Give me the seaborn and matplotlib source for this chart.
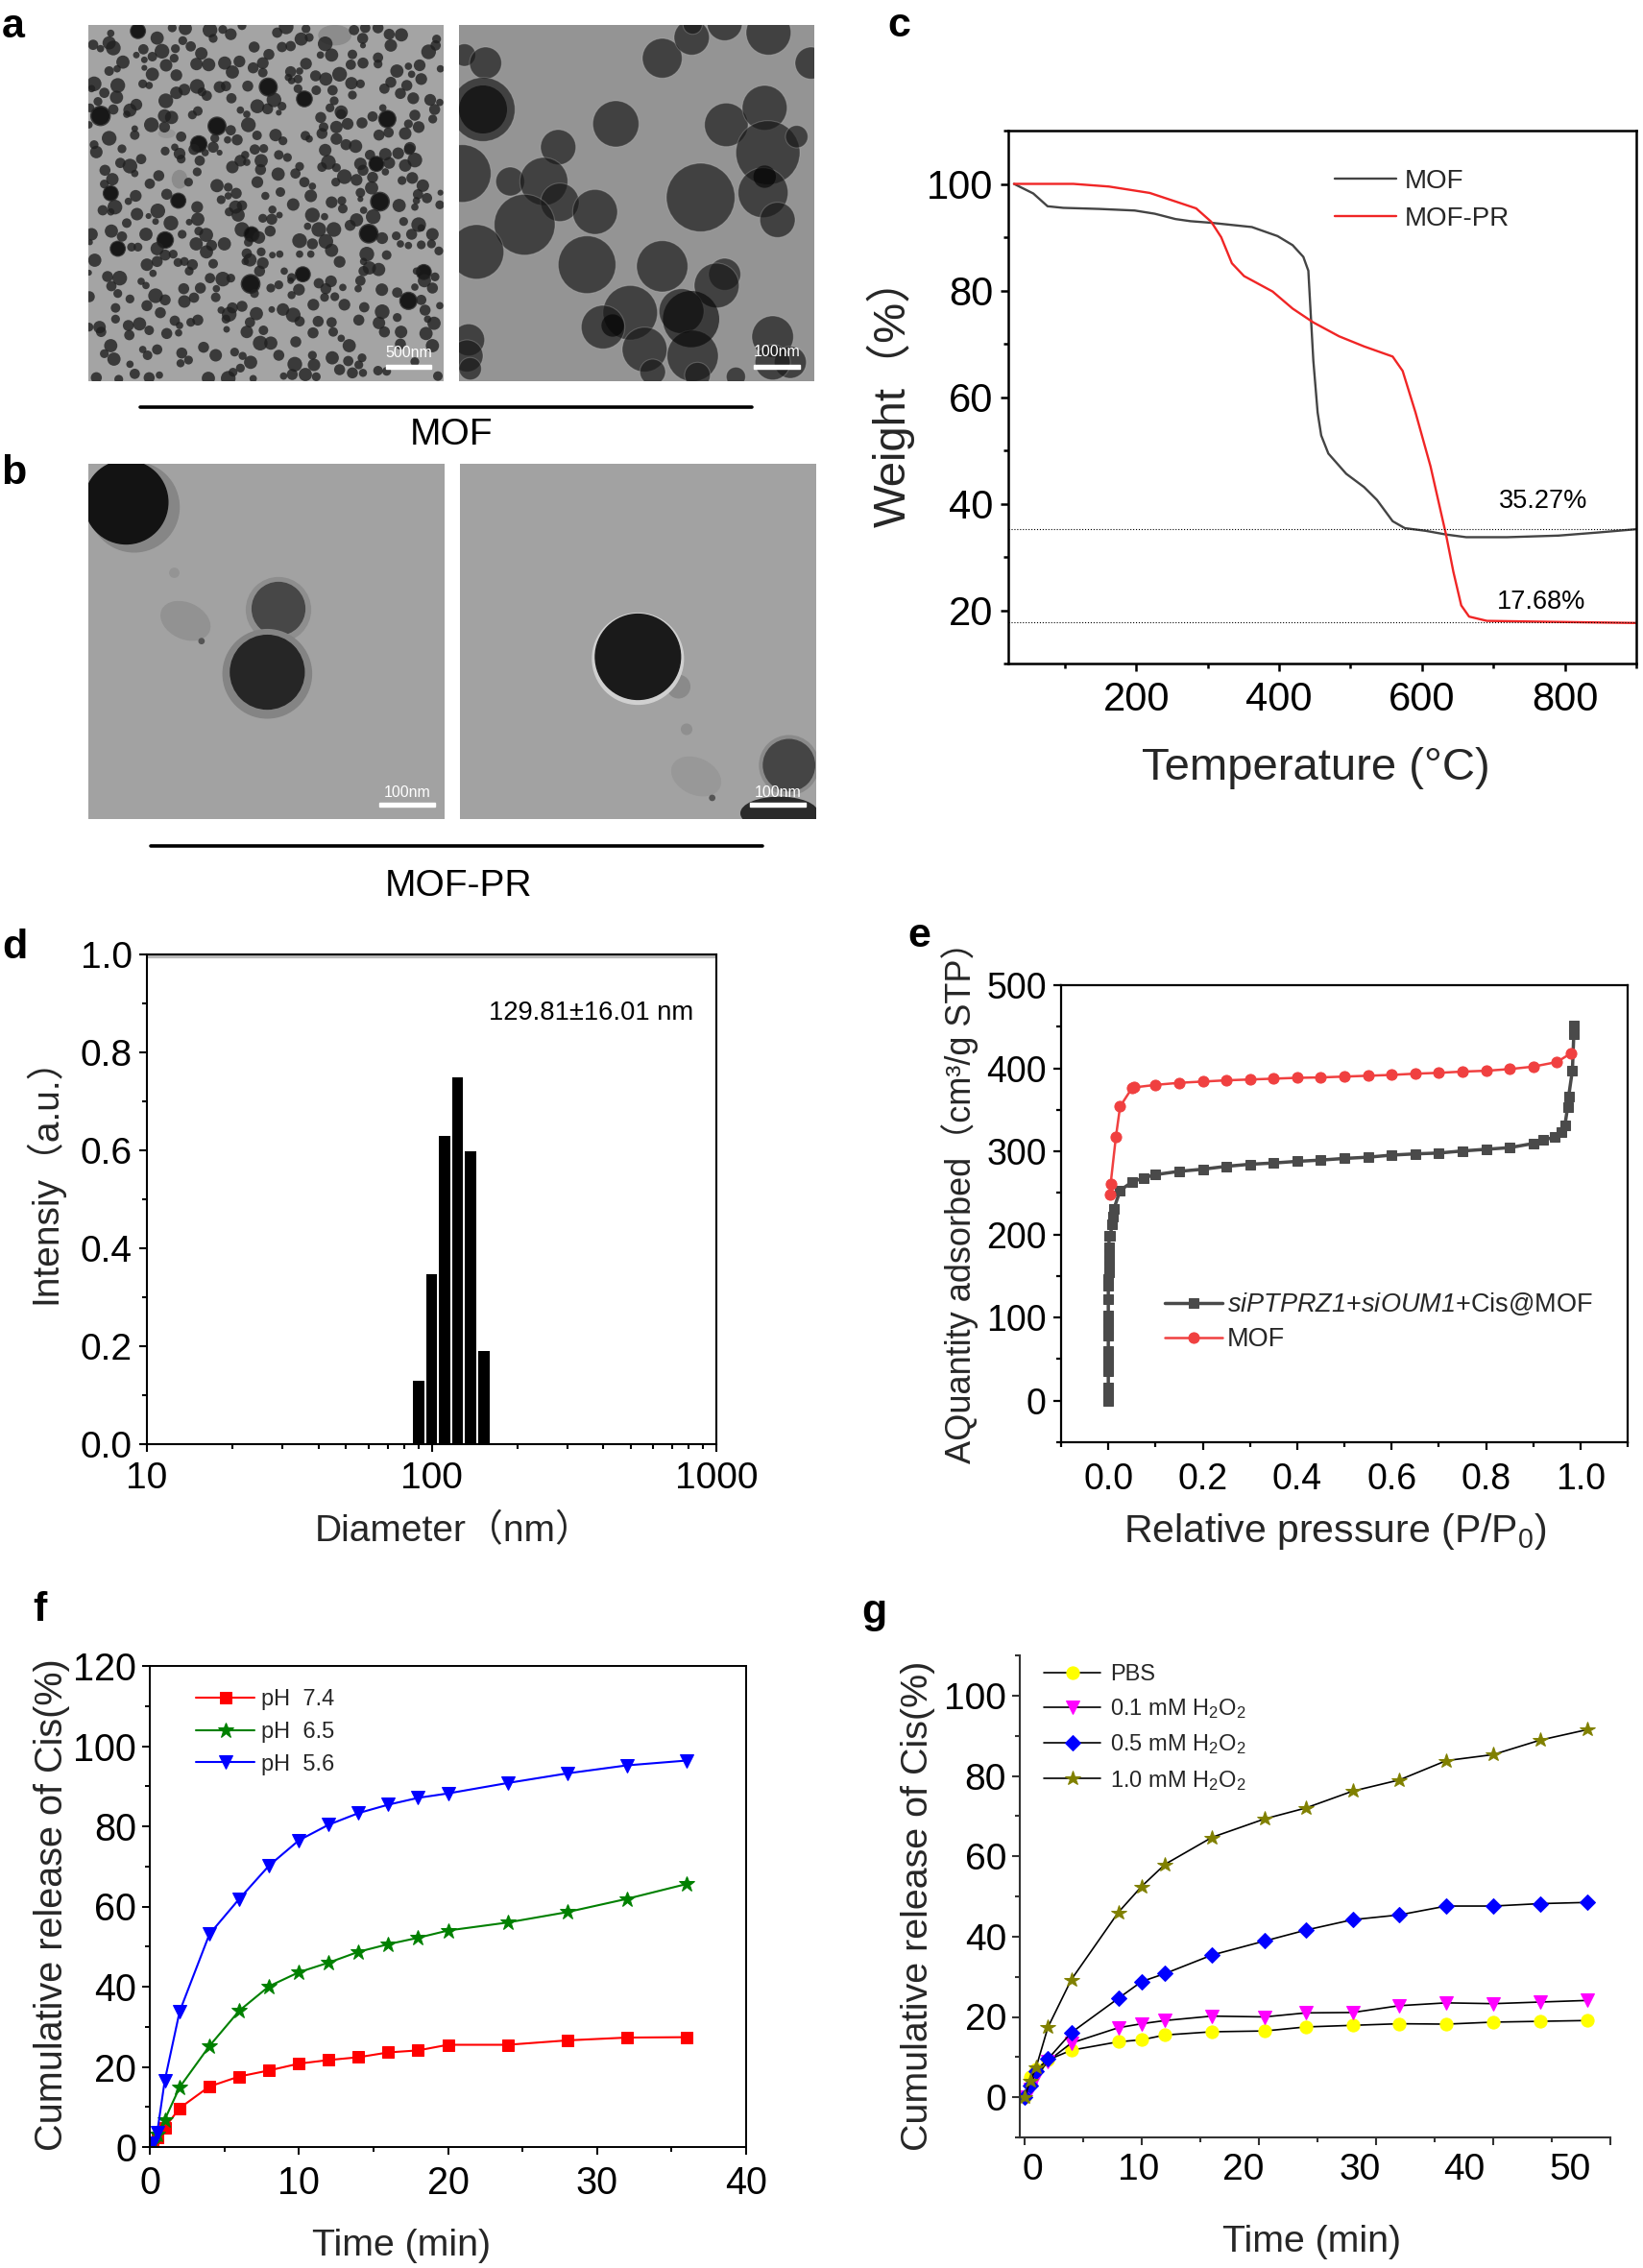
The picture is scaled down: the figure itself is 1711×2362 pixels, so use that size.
import numpy as np
import matplotlib
matplotlib.use('Agg')
import matplotlib.pyplot as plt
from matplotlib.patches import Circle, Ellipse, Rectangle
from matplotlib.ticker import MultipleLocator, LogLocator, NullFormatter
import seaborn as sns

W, H = 1711, 2362

# c: TGA
tga_mof_x = [29, 56, 76, 98, 148, 198, 226, 255, 276, 305, 362, 398, 419, 434, 441, 444, 448, 454, 459, 469, 494, 519, 537, 559, 576, 605, 634, 662, 719, 791, 848, 900]
tga_mof_y = [100, 98.2, 95.8, 95.5, 95.3, 95, 94.4, 93.4, 93, 92.7, 91.9, 90.2, 88.5, 86.3, 83.7, 76.4, 66.8, 57.1, 52.8, 49.4, 45.6, 43.1, 40.7, 36.7, 35.4, 34.9, 34.2, 33.7, 33.7, 34, 34.6, 35.2]
tga_pr_x = [29, 112, 162, 219, 255, 284, 305, 319, 334, 351, 391, 419, 448, 484, 519, 559, 573, 591, 612, 634, 644, 655, 666, 691, 791, 900]
tga_pr_y = [100, 100, 99.5, 98.3, 96.7, 95.4, 92.9, 90, 85.1, 82.7, 79.8, 76.6, 74, 71.4, 69.5, 67.6, 64.9, 57.1, 47, 34, 27.2, 20.9, 18.8, 18, 17.8, 17.6]
residues = [35.27, 17.68]

# d: DLS
diameter = [90.3, 100.1, 111, 123.4, 137, 152.6]
intensity = [0.13, 0.348, 0.629, 0.749, 0.598, 0.191]

# e: isotherm
bet_cis_x = [0, 0, 0, 0, 0, 0, 0, 0, 0, 0, 0, 0, 0, 0, 0.001, 0.001, 0.001, 0.001, 0.001, 0.002, 0.004, 0.008, 0.01, 0.012, 0.025, 0.05, 0.074, 0.1, 0.15, 0.2, 0.25, 0.3, 0.35, 0.4, 0.45, 0.5, 0.55, 0.6, 0.65, 0.7, 0.75, 0.8, 0.85, 0.9, 0.92, 0.945, 0.96, 0.967, 0.973, 0.975, 0.983, 0.986, 0.986]
bet_cis_y = [0, 8, 16, 36, 44, 52, 60, 78, 86, 94, 102, 122, 138, 146, 154, 162, 170, 176, 185, 198, 198, 212, 222, 231, 253, 263, 268, 272, 276, 278.5, 282, 284.5, 286, 288, 289.5, 291.5, 293, 295.5, 297, 298, 300.5, 302.5, 304.5, 309.5, 313.5, 317, 323.5, 331, 353.5, 366, 397.5, 441, 451]
bet_mof_x = [0.003, 0.005, 0.016, 0.025, 0.05, 0.055, 0.1, 0.15, 0.2, 0.25, 0.3, 0.35, 0.4, 0.45, 0.5, 0.55, 0.6, 0.65, 0.7, 0.75, 0.8, 0.85, 0.9, 0.95, 0.98]
bet_mof_y = [248, 261, 317, 354, 376, 377, 380, 382.5, 384, 385.5, 386.5, 387.5, 388.5, 389, 390, 391, 392, 393.5, 394.5, 396, 397, 399, 402, 407.5, 418]

# f: pH release
ph_time = [0.2, 0.5, 1, 2, 4, 6, 8, 10, 12, 14, 16, 18, 20, 24, 28, 32, 36]
ph74 = [0.5, 2.4, 4.8, 9.7, 15.1, 17.6, 19.1, 20.8, 21.7, 22.4, 23.6, 24.1, 25.5, 25.5, 26.6, 27.3, 27.4]
ph65 = [1, 3, 6.8, 14.9, 25.2, 34, 40.1, 43.6, 46, 48.7, 50.6, 52.2, 54, 56, 58.6, 61.9, 65.6]
ph56 = [1, 3.7, 16.5, 33.8, 53.1, 61.9, 70.2, 76.5, 80.4, 83.3, 85.4, 87.1, 88.2, 90.8, 93.2, 95.2, 96.4]

# g: H2O2 release
h2o2_time = [0, 0.5, 1, 2, 4, 8, 10, 12, 16, 20.5, 24, 28, 32, 36, 40, 44, 48]
pbs = [0, 5, 7, 9.3, 11.7, 13.8, 14.3, 15.5, 16.3, 16.5, 17.5, 17.9, 18.3, 18.2, 18.7, 18.9, 19.1]
h01 = [0, 2, 5, 9, 13.5, 17.3, 18.3, 19.1, 20.2, 20, 21, 21.1, 22.8, 23.5, 23.3, 23.7, 24.1]
h05 = [0, 3, 6.5, 9.5, 16.1, 24.6, 28.8, 30.8, 35.4, 38.9, 41.6, 44.2, 45.4, 47.6, 47.6, 48.2, 48.5]
h10 = [0, 4, 7.5, 17.4, 29.3, 46, 52.5, 58, 64.7, 69.3, 72, 76.2, 79, 83.8, 85.3, 88.9, 91.5]
g_xlabels = ['0', '10', '20', '30', '40', '50']

# TEM particles (x, y, r in crop units)
tem_a1 = [(155,25,22),(70,32,10),(215,47,18),(262,15,12),(303,17,18),(380,22,20),(420,20,12),(445,35,16),(480,8,12),(590,30,14),(618,12,20),(665,50,18),(690,45,12),(680,18,12),(830,22,14),(865,15,14),(905,15,15),(857,48,15),(940,35,15),(978,37,18),(945,70,17),(1088,50,12),
(15,68,14),(65,62,18),(78,78,20),(38,80,10),(172,82,14),(230,88,20),(272,80,12),(295,55,12),(320,73,14),(390,48,12),(518,75,15),(605,75,14),(632,72,14),(740,65,20),(760,100,18),(725,100,10),(825,98,13),(858,70,8),(1063,90,20),(1085,70,14),
(150,100,9),(200,105,13),(108,122,18),(175,115,9),(243,132,17),(268,110,12),(353,95,17),(338,128,17),(376,130,18),(426,125,18),(472,120,16),(564,98,15),(545,125,16),(515,140,15),(680,127,16),(820,130,14),(858,125,15),(905,108,14),(905,128,12),(1035,132,16),(1000,135,10),
(65,150,13),(90,143,10),(175,140,8),(200,160,18),(275,163,16),(450,153,18),(545,155,13),(632,152,15),(660,150,10),(785,160,20),(710,165,15),(742,175,18),(655,175,12),(635,180,10),(964,150,18),(1040,175,16),(1010,160,10),(1100,143,10),
(18,190,20),(10,205,10),(92,195,20),(50,218,14),(88,232,18),(170,190,12),(190,195,10),(275,218,17),(300,208,16),(340,198,20),(355,215,12),(370,227,14),(410,200,16),(430,197,14),(498,197,15),(562,200,26),(625,170,10),(675,237,23),(655,205,12),(712,210,13),(822,188,17),(850,190,12),(763,210,14),(825,225,12),(945,185,15),(925,205,14),(995,195,15),(975,220,15),(1015,235,16),
(30,245,12),(5,265,12),(38,290,28),(78,270,14),(150,255,16),(130,272,18),(120,285,10),(242,243,20),(342,275,13),(325,287,12),(447,235,14),(475,272,10),(495,285,10),(528,260,19),(560,268,15),(580,240,20),(605,260,12),(595,280,8),(768,243,12),(755,265,12),(790,278,18),(920,265,10),(1068,240,16),(1098,248,10),(1082,270,15),(1020,288,15),(1076,300,12),
(2,318,10),(197,318,20),(238,290,18),(260,295,18),(238,325,15),(402,322,26),(445,335,14),(500,318,20),(726,295,15),(735,325,13),(775,325,17),(810,315,16),(790,285,14),(855,312,15),(888,292,14),(934,300,25),(1000,315,12),(1032,325,16),(990,345,17),(145,330,9),(145,350,13),
(65,360,20),(290,355,14),(395,360,12),(345,378,24),(435,365,10),(465,365,15),(527,351,13),(585,350,17),(608,368,12),(678,352,13),(690,362,10),(730,345,15),(775,362,16),(908,350,15),(938,342,14),(805,380,15),(835,385,18),(1005,390,16),
(18,380,12),(25,403,17),(105,393,12),(240,400,12),(270,388,10),(285,408,16),(330,395,15),(390,388,15),(410,405,8),(365,405,10),(520,395,14),(548,392,12),(595,412,13),(622,420,12),(490,412,11),(740,397,17),(880,412,14),(928,410,17),(968,407,16),(1003,395,15),
(100,437,14),(130,447,20),(165,425,14),(145,470,10),(290,425,12),(348,430,14),(340,465,12),(475,430,16),(450,450,17),(495,435,10),(540,430,18),(538,458,15),(660,448,12),(750,435,20),(730,450,13),(775,452,12),(850,440,17),(900,440,22),(940,437,16),(858,460,15),(928,465,10),(1020,428,20),(990,445,17),
(52,460,15),(75,488,17),(220,477,15),(192,502,14),(313,497,12),(402,508,18),(528,497,16),(593,472,18),(647,470,14),(675,497,14),(800,480,20),(773,497,12),(838,490,16),(888,482,15),(980,492,12),(1012,484,16),
(50,503,12),(70,532,22),(148,540,16),(125,557,10),(245,535,15),(281,555,22),(437,513,12),(462,532,15),(437,540,10),(553,540,11),(600,528,13),(695,540,17),(700,510,10),(850,530,13),(885,515,18),(1045,508,17),(1030,535,14),(850,550,8),(1100,530,8),
(45,585,14),(83,575,20),(70,590,10),(217,587,20),(152,597,17),(340,575,16),(415,552,12),(460,575,18),(480,570,14),(640,567,17),(575,583,11),(760,560,16),(792,555,12),(795,580,13),(911,558,27),(971,570,18),(1058,547,14),(1025,555,10),(1020,575,10),(1098,568,12),
(188,603,8),(210,620,9),(120,625,13),(258,625,20),(342,613,18),(315,622,9),(440,590,12),(468,600,18),(545,610,12),(573,613,15),(597,600,9),(700,600,20),(738,605,10),(860,585,10),(838,615,18),(890,605,20),(818,632,15),(1032,630,20),(985,620,12),(1040,640,10),
(10,660,17),(72,650,18),(105,667,14),(180,660,18),(240,678,24),(293,660,12),(345,650,12),(368,662,19),(480,645,20),(510,660,22),(533,670,17),(568,650,15),(685,635,10),(720,645,20),(767,645,20),(876,658,27),(918,672,16),(962,665,12),(1010,660,15),(1075,660,17),
(5,685,8),(92,705,22),(135,700,12),(155,700,12),(215,705,18),(337,690,18),(385,695,15),(425,690,18),(369,715,18),(500,685,12),(660,680,20),(700,690,15),(742,682,20),(975,690,10),(1000,695,10),(1040,693,12),(1072,690,12),(1095,712,12),(760,710,18),(660,722,10),(695,722,10),
(20,741,18),(240,725,15),(265,722,12),(215,745,15),(300,745,12),(325,755,15),(280,748,12),(495,720,14),(505,740,18),(540,715,12),(545,750,16),(575,725,9),(598,722,10),(490,745,10),(785,746,16),(870,722,20),(932,725,13),(860,745,10),
(2,780,8),(183,755,17),(202,782,10),(315,775,12),(390,752,13),(535,775,15),(612,775,10),(670,785,22),(635,795,12),(60,792,15),(98,797,20),(860,775,14),(878,765,18),(907,770,18),(1048,778,22),(1025,775,10),(1083,793,12),
(72,822,14),(165,807,10),(180,820,10),(380,797,14),(420,800,20),(445,797,12),(507,815,27),(519,845,12),(570,828,12),(595,818,12),(632,805,9),(658,833,16),(635,850,11),(720,813,14),(758,807,16),(742,830,15),(795,826,10),(850,805,14),(843,830,10),(917,833,17),(1050,805,18),(1075,828,15),(1020,825,10),
(92,845,12),(3,855,15),(130,862,12),(210,852,20),(240,865,15),(298,830,15),(350,828,15),(300,870,17),(330,858,14),(400,830,10),(398,857,13),(738,857,12),(770,855,12),(800,880,16),(965,842,14),(1000,868,25),(1040,865,14),
(183,883,15),(85,890,13),(225,905,15),(480,885,15),(450,890,15),(440,910,20),(415,897,10),(525,908,18),(573,895,9),(608,895,17),(640,912,20),(703,880,16),(862,888,14),(918,902,20),(1052,897,15),(1098,883,10),
(85,925,12),(2,950,12),(35,950,17),(125,945,15),(160,940,18),(190,960,13),(270,930,14),(285,945,10),(320,935,12),(342,928,15),(430,925,12),(505,935,14),(660,932,14),(718,932,15),(760,935,14),(845,928,15),(908,937,17),(965,920,12),(1080,938,18),(1060,925,10),
(40,965,14),(128,975,14),(245,970,15),(282,968,10),(432,957,9),(495,965,17),(547,960,13),(702,968,15),(765,965,13),(925,965,15),(977,965,17),(1055,970,18),(790,985,10),
(70,1008,18),(80,1050,18),(50,1033,12),(170,1020,10),(215,1020,14),(185,1038,13),(292,1031,15),(313,1053,12),(288,1063,11),(360,1013,15),(398,1038,17),(457,1028,12),(482,1040,11),(507,1060,18),(537,1000,20),(570,1000,18),(595,1038,15),(648,996,15),(645,1066,20),(700,1038,12),(705,1068,17),(762,1046,18),(815,1008,18),(812,1056,14),(855,1046,12),(845,1068,12),(825,1093,15),(858,1093,11),(1020,1058,12),(1075,1008,18),(975,1003,15),
(130,1066,10),(145,1096,14),(25,1108,15),(95,1113,12),(190,1108,15),(222,1100,10),(375,1110,18),(437,1110,20),(452,1091,12),(475,1078,12),(515,1111,10),(610,1103,10),(637,1098,15),(678,1098,18),(712,1105,12),(785,1083,15),(905,1086,13),(932,1088,12),(1092,1103,13)]
tem_a2 = [(2,100,35),(68,125,50),(60,270,100),(-5,470,90),(295,388,55),(475,315,72),(145,495,45),(250,495,75),(300,560,60),(190,630,95),(410,590,70),(40,715,85),(385,755,90),(620,110,62),(712,45,55),(715,5,30),(815,0,55),(952,30,70),(1085,125,50),(820,318,68),(940,265,70),(950,405,100),(1040,355,35),(935,530,78),(980,615,55),(740,545,107),(620,760,80),(815,785,50),(790,820,70),(520,905,85),(435,950,68),(680,900,70),(565,1020,70),(715,1040,80),(965,980,65),(1020,1060,50),(15,990,50),(10,1040,50),(20,1080,35),(965,1060,55),(590,1090,40),(730,1100,40),(850,1105,30)]
# the near black cores
tem_a2_dark = [(60,270,75),(710,925,88),(940,480,35),(465,945,35)]

sns.set_theme(style='ticks')
plt.rcParams['font.family'] = ['Liberation Sans', 'Noto Sans CJK SC', 'DejaVu Sans']
plt.rcParams['mathtext.fontset'] = 'custom'
plt.rcParams['mathtext.rm'] = 'Liberation Sans'
plt.rcParams['mathtext.it'] = 'Liberation Sans:italic'
plt.rcParams['mathtext.cal'] = 'Liberation Sans:italic'
plt.rcParams['mathtext.default'] = 'regular'

fig = plt.figure(figsize=(W / 100, H / 100), dpi=100, facecolor='white')


def add_box(l, t, r, b):
    return fig.add_axes([l / W, 1 - b / H, (r - l) / W, (b - t) / H])


def px_text(x, y, s, size, **kw):
    kw.setdefault('ha', 'center')
    kw.setdefault('va', 'center')
    kw.setdefault('color', 'black')
    return fig.text(x / W, 1 - y / H, s, fontsize=size, **kw)


def style_axes(ax, box, lw=1.5, labelsize=28, pad=6, color='black'):
    for s in ax.spines.values():
        s.set_linewidth(lw)
        s.set_color(color)
    ax.tick_params(which='major', length=6, width=lw, labelsize=labelsize, pad=pad, color=color, labelcolor='black')
    ax.tick_params(which='minor', length=3.5, width=lw, color=color)
    ax.grid(False)


def set_labels(ax, box, xlab, xpos, xsize, ylab, ypos, ysize):
    l, t, r, b = box
    ax.set_xlabel(xlab, fontsize=xsize, va='center', labelpad=0)
    ax.set_ylabel(ylab, fontsize=ysize, va='center', labelpad=0)
    ax.xaxis.set_label_coords((xpos[0] - l) / (r - l), (b - xpos[1]) / (b - t))
    ax.yaxis.set_label_coords((ypos[0] - l) / (r - l), (b - ypos[1]) / (b - t))


def place_legend(ax, left, top, size, spacing, hlen, tpad):
    ax.legend(loc='upper left', bbox_to_anchor=(left / W, 1 - top / H), bbox_transform=fig.transFigure,
              frameon=False, fontsize=size, borderpad=0, borderaxespad=0, labelspacing=spacing,
              handlelength=hlen, handletextpad=tpad)


def tem_panel(box, xlim, ylim, bg):
    ax = add_box(*box)
    ax.set_facecolor(bg)
    ax.set_xlim(*xlim)
    ax.set_ylim(*ylim)
    ax.set_xticks([])
    ax.set_yticks([])
    for s in ax.spines.values():
        s.set_visible(False)
    return ax


def scale_bar(ax, x0, x1, y, text, ty):
    ax.add_patch(Rectangle((x0, y - 6), x1 - x0, 12, color='white', zorder=20))
    ax.text((x0 + x1) / 2, ty, text, color='white', fontsize=11.5, ha='center', va='center', zorder=20)


# a: MOF micrographs
ax = tem_panel((92, 26, 462, 397), (0, 1110), (1119, 6), '#a4a4a4')
ax.add_patch(Ellipse((770, 38), 100, 60, color='#8c8c8c'))
ax.add_patch(Ellipse((285, 488), 45, 55, color='#8c8c8c'))
ax.add_patch(Ellipse((245, 345), 50, 25, color='#969696'))
for x, y, r in tem_a1:
    ax.add_patch(Circle((x, y), r * 1.15, color='#202020', alpha=0.8, lw=0))
    if r >= 22:
        ax.add_patch(Circle((x, y), r, color='#0a0a0a', alpha=0.7, lw=0))
scale_bar(ax, 930, 1072, 1075, '500nm', 1031)

ax = tem_panel((478, 26, 848, 397), (-15, 1095), (1119, 6), '#949494')
for x, y, r in tem_a2:
    ax.add_patch(Circle((x, y), r, fc=(0.1, 0.1, 0.1, 0.68), ec=(0.85, 0.85, 0.85, 0.25), lw=0.8))
for x, y, r in tem_a2_dark:
    ax.add_patch(Circle((x, y), r, fc=(0, 0, 0, 0.6), lw=0))
scale_bar(ax, 905, 1050, 1075, '100nm', 1029)

# b: MOF-PR micrographs
ax = tem_panel((92, 483, 463, 853), (7, 1118), (1118, 10), '#a2a2a2')
ax.add_patch(Ellipse((310, 500), 160, 110, angle=25, color='#929292'))
ax.add_patch(Circle((275, 350), 14, color='#949494'))
ax.add_patch(Circle((360, 563), 8, color='#555555'))
ax.add_patch(Circle((150, 145), 140, color='#868686'))
ax.add_patch(Circle((125, 130), 130, color='#131313'))
ax.add_patch(Circle((600, 465), 100, color='#8e8e8e'))
ax.add_patch(Circle((600, 462), 82, color='#474747'))
ax.add_patch(Circle((565, 665), 138, color='#848484'))
ax.add_patch(Circle((565, 660), 115, color='#262626'))
scale_bar(ax, 915, 1087, 1072, '100nm', 1035)

ax = tem_panel((479, 483, 850, 853), (12, 1125), (1118, 10), '#a2a2a2')
ax.add_patch(Circle((695, 705), 35, color='#8a8a8a'))
ax.add_patch(Circle((720, 838), 16, color='#8f8f8f'))
ax.add_patch(Ellipse((750, 985), 160, 110, angle=25, color='#989898'))
ax.add_patch(Circle((800, 1052), 8, color='#555555'))
ax.add_patch(Circle((568, 618), 142, color='#d0d0d0'))
ax.add_patch(Circle((568, 612), 133, color='#1a1a1a'))
ax.add_patch(Circle((1040, 950), 92, color='#8a8a8a'))
ax.add_patch(Circle((1040, 950), 80, color='#454545'))
ax.add_patch(Ellipse((1010, 1100), 240, 100, color='#2a2a2a'))
scale_bar(ax, 918, 1092, 1073, '100nm', 1035)

for x0, x1, y in [(146, 783, 424), (157, 794, 881)]:
    fig.add_artist(plt.Line2D([x0 / W, x1 / W], [1 - y / H, 1 - y / H], color='black', lw=2.6))
px_text(470, 453, 'MOF', 28)
px_text(477, 923, 'MOF-PR', 28)

# c: TGA
box = (1050, 136, 1704, 691)
ax = add_box(*box)
sns.lineplot(x=tga_mof_x, y=tga_mof_y, color='#444444', lw=1.7, label='MOF', sort=False, estimator=None, ax=ax)
sns.lineplot(x=tga_pr_x, y=tga_pr_y, color='#f02525', lw=1.7, label='MOF-PR', sort=False, estimator=None, ax=ax)
for v in residues:
    ax.axhline(v, color='black', lw=0.8, ls=':')
ax.set_xlim(21, 900)
ax.set_ylim(10, 110)
ax.set_xticks([200, 400, 600, 800])
ax.xaxis.set_minor_locator(MultipleLocator(100))
ax.yaxis.set_major_locator(MultipleLocator(20))
ax.yaxis.set_minor_locator(MultipleLocator(10))
style_axes(ax, box, lw=1.8, labelsize=30, pad=7)
ax.tick_params(axis='y', pad=5)
set_labels(ax, box, 'Temperature (°C)', (1370, 800), 34, 'Weight（%）', (928, 408), 34)
place_legend(ax, 1390, 176, 20, 0.46, 2.3, 0.32)
px_text(1607, 522, '35.27%', 19.5)
px_text(1605, 627, '17.68%', 19.5)

# d: DLS size distribution
box = (153, 994, 746, 1504)
ax = add_box(*box)
sns.histplot(x=diameter, weights=intensity, bins=6, binrange=(1.931, 2.206), log_scale=True, shrink=0.86,
             color='black', edgecolor='none', alpha=1, ax=ax)
ax.axhline(0.996, color='#bbbbbb', lw=3)
ax.set_xlim(10, 1000)
ax.set_ylim(0, 1)
ax.xaxis.set_major_locator(LogLocator(base=10, numticks=4))
ax.xaxis.set_minor_locator(LogLocator(base=10, subs=np.arange(2, 10), numticks=4))
ax.xaxis.set_minor_formatter(NullFormatter())
ax.set_xticks([10, 100, 1000])
ax.set_xticklabels(['10', '100', '1000'])
ax.yaxis.set_major_locator(MultipleLocator(0.2))
ax.yaxis.set_minor_locator(MultipleLocator(0.1))
style_axes(ax, box, lw=1.5, labelsize=28, pad=7)
ax.tick_params(axis='y', pad=5)
set_labels(ax, box, 'Diameter（nm）', (473, 1595), 28, 'Intensiy（a.u.）', (46, 1220), 28)
px_text(616, 1055, '129.81±16.01 nm', 19.7)

# e: N2 isotherm
box = (1105, 1026, 1695, 1502)
ax = add_box(*box)
sns.lineplot(x=bet_cis_x, y=bet_cis_y, color='#4a4a4a', lw=2.5, marker='s', markersize=7, markeredgecolor='#4a4a4a',
             label=r'$\mathcal{siPTPRZ1}$+$\mathcal{siOUM1}$+Cis@MOF', sort=False, estimator=None, ax=ax)
sns.lineplot(x=bet_mof_x, y=bet_mof_y, color='#f04040', lw=1.8, marker='o', markersize=8, markeredgecolor='#f04040',
             label='MOF', sort=False, estimator=None, ax=ax)
ax.set_xlim(-0.1, 1.1)
ax.set_ylim(-50, 500)
ax.xaxis.set_major_locator(MultipleLocator(0.2))
ax.xaxis.set_minor_locator(MultipleLocator(0.1))
ax.yaxis.set_major_locator(MultipleLocator(100))
ax.yaxis.set_minor_locator(MultipleLocator(50))
style_axes(ax, box, lw=1.6, labelsize=27, pad=9)
ax.tick_params(axis='y', pad=5)
set_labels(ax, box, 'Relative pressure (P/P$_0$)', (1390, 1595), 29.5, 'AQuantity adsorbed（cm³/g STP）', (1000, 1243), 26)
place_legend(ax, 1213, 1344, 19.5, 0.37, 2.2, 0.2)

# f: pH dependent release
box = (156, 1735, 777, 2236)
ax = add_box(*box)
sns.lineplot(x=ph_time, y=ph74, color='red', lw=1.5, marker='s', markersize=8, markeredgecolor='red', label='pH  7.4', estimator=None, ax=ax)
sns.lineplot(x=ph_time, y=ph65, color='green', lw=1.5, marker='*', markersize=12, markeredgecolor='green', label='pH  6.5', estimator=None, ax=ax)
sns.lineplot(x=ph_time, y=ph56, color='blue', lw=1.5, marker='v', markersize=10, markeredgecolor='blue', label='pH  5.6', estimator=None, ax=ax)
ax.set_xlim(0, 40)
ax.set_ylim(0, 120)
ax.xaxis.set_major_locator(MultipleLocator(10))
ax.xaxis.set_minor_locator(MultipleLocator(5))
ax.yaxis.set_major_locator(MultipleLocator(20))
ax.yaxis.set_minor_locator(MultipleLocator(10))
style_axes(ax, box, lw=1.4, labelsize=28.5, pad=8)
ax.tick_params(axis='y', pad=4)
set_labels(ax, box, 'Time (min)', (418, 2339), 28.3, 'Cumulative release of Cis(%)', (54, 1984), 28.5)
place_legend(ax, 204, 1759, 17, 0.5, 2.6, 0.3)

# g: H2O2 dependent release
box = (1062, 1724, 1677, 2226)
ax = add_box(*box)
g_series = [(pbs, 'PBS', 'o', 'yellow', 9.5), (h01, '0.1 mM H$_2$O$_2$', 'v', 'magenta', 10),
            (h05, '0.5 mM H$_2$O$_2$', 'D', 'blue', 8), (h10, '1.0 mM H$_2$O$_2$', '*', 'olive', 11.5)]
for vals, lab, mk, col, ms in g_series:
    sns.lineplot(x=h2o2_time, y=vals, color='black', lw=1.2, marker=mk, markersize=ms, markerfacecolor=col,
                 markeredgecolor=col, label=lab, estimator=None, ax=ax)
ax.set_xlim(-0.4, 50)
ax.set_ylim(-10, 110)
ax.set_xticks(range(0, 51, 10))
ax.set_xticklabels([])
ax.xaxis.set_minor_locator(MultipleLocator(5))
ax.yaxis.set_major_locator(MultipleLocator(20))
ax.yaxis.set_minor_locator(MultipleLocator(10))
ax.spines['top'].set_visible(False)
ax.spines['right'].set_visible(False)
style_axes(ax, box, lw=1.5, labelsize=28, pad=4, color='#333333')
set_labels(ax, box, 'Time (min)', (1366, 2335), 28.3, 'Cumulative release of Cis(%)', (956, 1985), 28.4)
place_legend(ax, 1087, 1733, 17, 0.52, 2.5, 0.42)
# the tick labels in the source do not sit on their ticks
for lab, cx in zip(g_xlabels, [1075, 1186, 1295, 1416, 1525, 1635]):
    px_text(cx, 2260, lab, 28)

# panel letters
for s, x, y in [('a', 14, 28), ('b', 14, 493), ('c', 936, 27), ('d', 15, 987), ('e', 957, 975), ('f', 41, 1677), ('g', 910, 1679)]:
    px_text(x, y, s, 31, fontweight='bold')

fig.savefig('out.png', dpi=100)
